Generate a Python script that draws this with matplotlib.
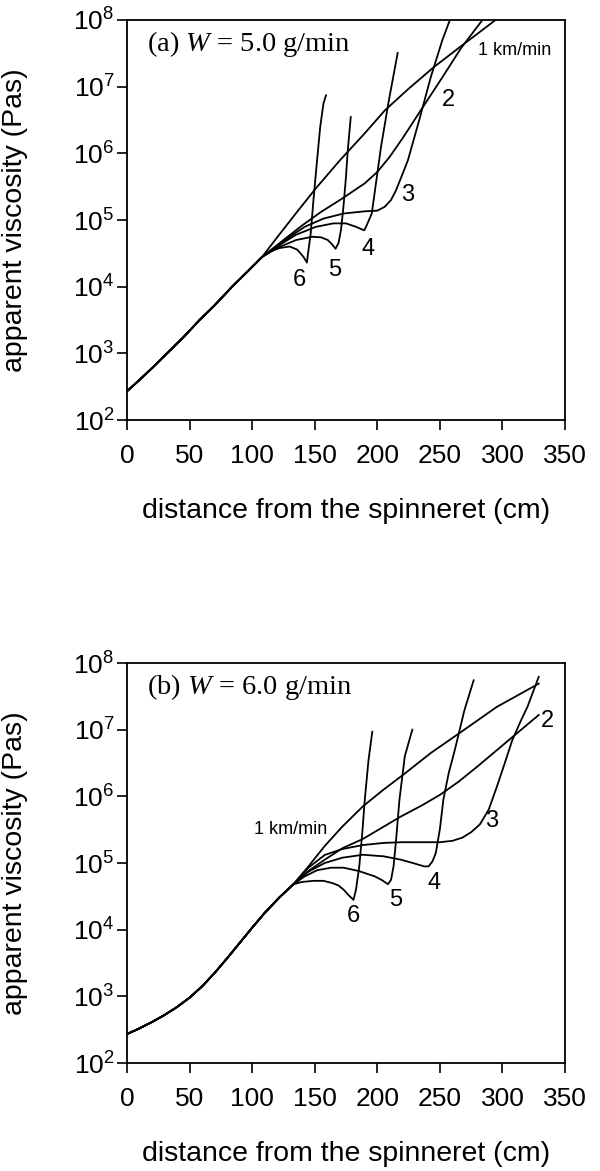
import numpy as np
import matplotlib
matplotlib.use("Agg")
import matplotlib.pyplot as plt

plt.rcParams['font.family'] = ['Liberation Sans', 'DejaVu Sans']
plt.rcParams['mathtext.fontset'] = 'custom'
plt.rcParams['mathtext.rm'] = 'Liberation Sans'
plt.rcParams['mathtext.it'] = 'Liberation Serif:italic'

# ---------------- data: panel (a) W = 5.0 g/min ----------------
a_trunk_x = [0, 10, 20, 32, 45, 58, 70, 84, 97, 108]
a_trunk_y = [2.7e2, 4.0e2, 6.0e2, 1.0e3, 1.74e3, 3.16e3, 5.25e3, 1.0e4, 1.74e4, 2.8e4]

a1_x = [108, 120, 135, 151, 170, 190, 206, 225, 245, 265, 294.5]
a1_y = [2.8e4, 5.5e4, 1.26e5, 3.0e5, 7.8e5, 2.0e6, 4.4e6, 9.3e6, 1.95e7, 3.8e7, 1.0e8]
a2_x = [108, 125, 140, 155, 172, 190, 200, 210, 220, 236, 252, 267, 284]
a2_y = [2.8e4, 5.0e4, 8.3e4, 1.32e5, 2.1e5, 3.55e5, 5.25e5, 8.9e5, 1.66e6, 4.8e6,
        1.38e7, 3.8e7, 1.0e8]
a3_x = [108, 118, 130, 142, 157, 173, 190, 200, 206, 211, 215, 220, 224.5, 233.6, 242.8, 252, 258]
a3_y = [2.8e4, 3.7e4, 5.6e4, 7.9e4, 1.05e5, 1.25e5, 1.35e5, 1.38e5, 1.58e5, 2.0e5, 2.8e5,
        4.8e5, 7.9e5, 3.2e6, 1.4e7, 5.0e7, 1.0e8]
a4_x = [108, 120, 135, 151, 165, 175, 183, 189.5, 191, 195.6, 198.6, 203, 209.3, 216.3]
a4_y = [2.8e4, 4.0e4, 6.0e4, 7.9e4, 8.9e4, 8.9e4, 7.9e4, 7.0e4, 7.9e4, 1.25e5, 3.2e5,
        1.26e6, 6.3e6, 3.2e7]
a5_x = [108, 120, 135, 148, 155, 160.5, 164, 166.6, 169, 171, 173, 175, 176.4, 178.8]
a5_y = [2.8e4, 3.8e4, 5.0e4, 5.6e4, 5.5e4, 5.0e4, 4.3e4, 3.7e4, 4.5e4, 7.1e4, 1.6e5,
        4.5e5, 1.1e6, 3.5e6]
a6_x = [108, 115, 122, 130, 136, 141, 143.8, 144.7, 146.8, 149, 151.4, 154.4, 157, 159]
a6_y = [2.8e4, 3.4e4, 3.8e4, 4.0e4, 3.6e4, 2.8e4, 2.3e4, 3.2e4, 6.3e4, 2.0e5, 6.3e5,
        2.5e6, 5.6e6, 7.4e6]

# ---------------- data: panel (b) W = 6.0 g/min ----------------
b_trunk_x = [0, 10, 20, 30, 40, 50, 60, 70, 80, 90, 100, 110, 121.6, 133]
b_trunk_y = [2.72e2, 3.31e2, 4.12e2, 5.25e2, 6.92e2, 9.55e2, 1.41e3, 2.24e3, 3.72e3,
             6.31e3, 1.07e4, 1.78e4, 3.02e4, 4.8e4]

b1_x = [133, 145, 158, 172, 188.6, 205, 222, 243, 265, 295.6, 329]
b1_y = [4.8e4, 8.9e4, 1.8e5, 3.5e5, 7.1e5, 1.26e6, 2.2e6, 4.5e6, 8.7e6, 2.2e7, 4.9e7]
b2_x = [133, 145, 158, 172, 188.6, 205, 219, 235, 250, 265, 280, 304.8, 329]
b2_y = [4.8e4, 7.6e4, 1.12e5, 1.66e5, 2.3e5, 3.5e5, 5.0e5, 7.2e5, 1.05e6, 1.66e6,
        2.8e6, 6.9e6, 1.66e7]
b3_x = [133, 145, 158, 172, 188.6, 205, 219, 235, 250, 260, 268, 275, 282, 289, 295.6,
        302, 307.8, 315, 320, 329]
b3_y = [4.8e4, 8.5e4, 1.32e5, 1.62e5, 1.86e5, 2.0e5, 2.05e5, 2.05e5, 2.05e5, 2.15e5,
        2.4e5, 2.9e5, 3.8e5, 6.3e5, 1.4e6, 3.2e6, 6.9e6, 1.4e7, 2.2e7, 6.2e7]
b4_x = [133, 145, 158, 172, 188.6, 205, 219, 230, 237.5, 241, 244, 246.7, 250, 252.8,
        257, 262, 269.6, 277]
b4_y = [4.8e4, 7.4e4, 1.0e5, 1.2e5, 1.33e5, 1.26e5, 1.12e5, 9.8e4, 8.9e4, 8.9e4,
        1.05e5, 1.4e5, 3.2e5, 8.9e5, 2.2e6, 5.0e6, 1.95e7, 5.5e7]
b5_x = [133, 142, 152, 163, 173, 185, 198, 204, 208.5, 211, 213, 215, 217.7, 222, 228]
b5_y = [4.8e4, 6.3e4, 7.8e4, 8.5e4, 8.5e4, 7.6e4, 6.3e4, 5.5e4, 4.8e4, 5.6e4, 8.9e4,
        2.2e5, 8.9e5, 4.0e6, 1.0e7]
b6_x = [133, 140, 149, 157, 164, 169, 173, 177, 181, 183, 185.6, 188, 190, 193, 196]
b6_y = [4.8e4, 5.2e4, 5.4e4, 5.4e4, 5.0e4, 4.6e4, 4.0e4, 3.3e4, 2.8e4, 4.0e4, 8.9e4,
        2.8e5, 8.9e5, 3.5e6, 9.3e6]

xticks = [0, 50, 100, 150, 200, 250, 300, 350]
yticks = [1e2, 1e3, 1e4, 1e5, 1e6, 1e7, 1e8]
ytick_labels = [r'$\mathregular{10^{%d}}$' % e for e in range(2, 9)]

panels = [
    dict(trunk=(a_trunk_x, a_trunk_y),
         branches=[(a1_x, a1_y), (a2_x, a2_y), (a3_x, a3_y),
                   (a4_x, a4_y), (a5_x, a5_y), (a6_x, a6_y)],
         title=r'(a) $W$ = 5.0 g/min',
         labels=[('1 km/min', 310, 3.5e7, 13), ('2', 256.5, 6.3e6, 17),
                 ('3', 224.5, 2.35e5, 17), ('4', 193, 3.7e4, 17),
                 ('5', 165.7, 1.8e4, 17), ('6', 137.7, 1.26e4, 17)],
         rect=[127 / 600, 1 - 420 / 1171, 438 / 600, 400 / 1171]),
    dict(trunk=(b_trunk_x, b_trunk_y),
         branches=[(b1_x, b1_y), (b2_x, b2_y), (b3_x, b3_y),
                   (b4_x, b4_y), (b5_x, b5_y), (b6_x, b6_y)],
         title=r'(b) $W$ = 6.0 g/min',
         labels=[('1 km/min', 130.5, 3.2e5, 13), ('2', 336, 1.35e7, 17),
                 ('3', 291, 4.2e5, 17), ('4', 245, 5.0e4, 17),
                 ('5', 214.6, 2.8e4, 17), ('6', 181, 1.6e4, 17)],
         rect=[127 / 600, 1 - 1063 / 1171, 438 / 600, 400 / 1171]),
]

fig = plt.figure(figsize=(6.0, 11.71), dpi=100)

for p in panels:
    ax = fig.add_axes(p['rect'])
    tx, ty = p['trunk']
    for bx, by in p['branches']:
        ax.plot(list(tx) + list(bx[1:]), list(ty) + list(by[1:]),
                color='black', lw=1.3, solid_joinstyle='round')
    ax.set_yscale('log')
    ax.set_xlim(0, 350)
    ax.set_ylim(1e2, 1e8)
    ax.set_xticks(xticks)
    ax.set_xticklabels([str(t) for t in xticks], fontsize=19)
    ax.set_yticks(yticks)
    ax.set_yticklabels(ytick_labels, fontsize=19)
    ax.minorticks_off()
    ax.tick_params(axis='both', direction='out', length=7, width=1.2, color='black')
    ax.tick_params(axis='x', pad=10)
    ax.tick_params(axis='y', pad=2)
    for s in ax.spines.values():
        s.set_linewidth(1.3)
    ax.set_xlabel('distance from the spinneret (cm)', fontsize=20.5)
    ax.set_ylabel('apparent viscosity (Pas)', fontsize=20.5)
    ax.xaxis.set_label_coords(0.5, -0.195)
    ax.yaxis.set_label_coords(-0.226, 0.5)
    ax.text(16, 4.3e7, p['title'], family='Liberation Serif', fontsize=20.5,
            ha='left', va='center')
    for txt, lx, ly, fs in p['labels']:
        ax.text(lx, ly, txt, fontsize=fs, ha='center', va='center')

fig.savefig('out.png', dpi=100)
